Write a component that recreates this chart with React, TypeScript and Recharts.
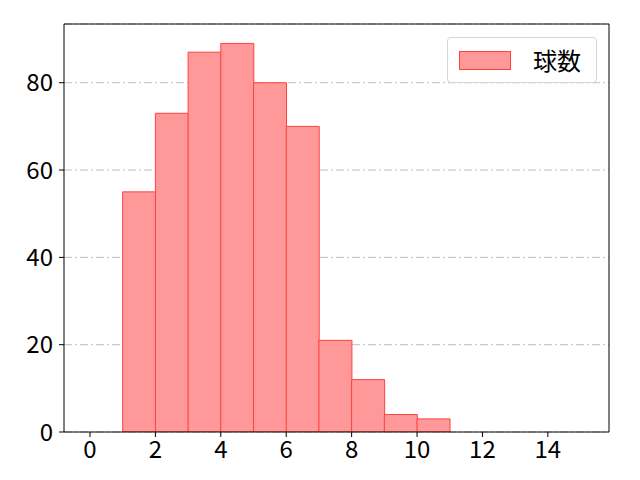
import React from "react";
import { ComposedChart, Bar, XAxis, YAxis, CartesianGrid, Legend } from "recharts";

const binCenters = [1.5, 2.5, 3.5, 4.5, 5.5, 6.5, 7.5, 8.5, 9.5, 10.5];
const counts = [55, 73, 87, 89, 80, 70, 21, 12, 4, 3];
const xTicks = [0, 2, 4, 6, 8, 10, 12, 14];
const yTicks = [0, 20, 40, 60, 80];
const seriesName = "球数";

const data = binCenters.map((c, i) => ({ x: c, count: counts[i] }));

const FONT = "'Noto Sans CJK JP', 'Noto Sans', sans-serif";
const FILL = "#ff9999";
const EDGE = "#ff4040";

const LegendBox = () => (
  <div
    style={{
      position: "absolute",
      left: 447,
      top: 37,
      width: 150,
      height: 46,
      boxSizing: "border-box",
      border: "1px solid #d6d6d6",
      borderRadius: 4,
      background: "rgba(255,255,255,0.8)",
      display: "flex",
      alignItems: "center",
      fontFamily: FONT,
      fontSize: 24,
      color: "#000",
    }}
  >
    <div
      style={{
        marginLeft: 11,
        width: 52,
        height: 19,
        boxSizing: "border-box",
        background: FILL,
        border: `1px solid ${EDGE}`,
      }}
    />
    <span style={{ marginLeft: 22, lineHeight: 1 }}>{seriesName}</span>
  </div>
);

export default function App() {
  return (
    <div style={{ position: "fixed", left: 0, top: 0, width: 640, height: 480, background: "#fff" }}>
      <ComposedChart
        width={640}
        height={480}
        data={data}
        margin={{ top: 23, right: 30, bottom: 0, left: 0 }}
        barCategoryGap={0}
        barGap={0}
      >
        <CartesianGrid
          vertical={false}
          stroke="#b0b0b0"
          strokeDasharray="8 3 2 3"
          strokeWidth={0.8}
        />
        <XAxis
          dataKey="x"
          type="number"
          domain={[-0.795, 15.87]}
          allowDataOverflow
          ticks={xTicks}
          interval={0}
          height={48}
          stroke="#000"
          tickLine={{ stroke: "#000" }}
          tickSize={5}
          tick={{ fill: "#000", fontSize: 24, fontFamily: FONT }}
          tickMargin={4}
        />
        <XAxis
          xAxisId="top"
          dataKey="x"
          type="number"
          orientation="top"
          domain={[-0.795, 15.87]}
          allowDataOverflow
          height={1}
          tick={false}
          tickLine={false}
          axisLine={{ stroke: "#000" }}
        />
        <YAxis
          type="number"
          domain={[0, 93.45]}
          allowDataOverflow
          ticks={yTicks}
          interval={0}
          width={64}
          stroke="#000"
          tickSize={5}
          tick={{ fill: "#000", fontSize: 24, fontFamily: FONT }}
          tickMargin={6}
        />
        <YAxis
          yAxisId="right"
          orientation="right"
          type="number"
          domain={[0, 93.45]}
          width={1}
          tick={false}
          tickLine={false}
          axisLine={{ stroke: "#000" }}
        />
        <Legend content={<LegendBox />} wrapperStyle={{ position: "absolute", left: 0, top: 0, width: 0, height: 0 }} />
        <Bar
          dataKey="count"
          name={seriesName}
          fill={FILL}
          stroke={EDGE}
          strokeWidth={1}
          isAnimationActive={false}
        />
      </ComposedChart>
    </div>
  );
}
